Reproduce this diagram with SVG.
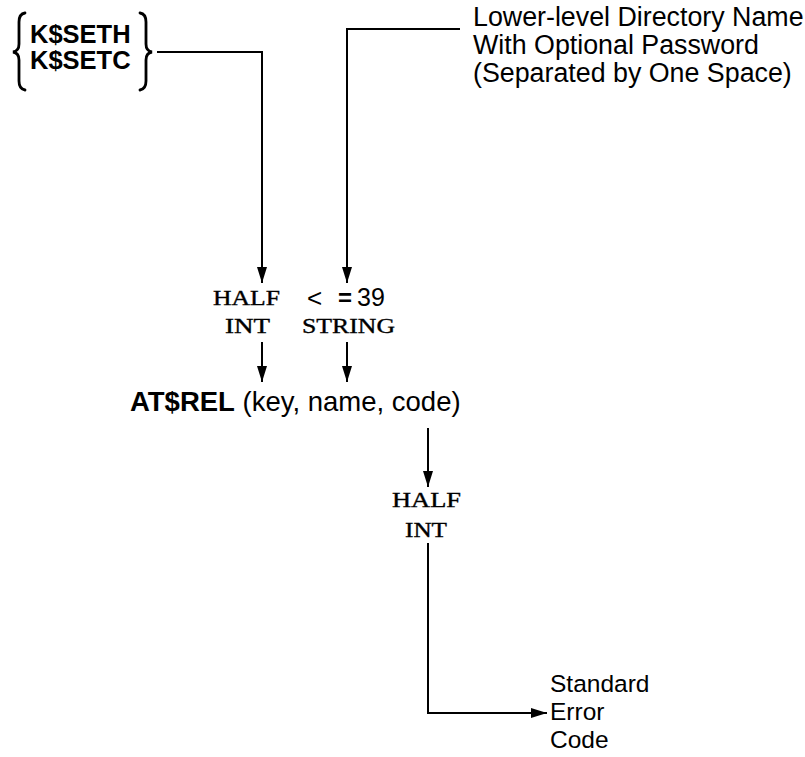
<svg xmlns="http://www.w3.org/2000/svg" width="805" height="757" viewBox="0 0 805 757">
<defs>
<style>
.sans{font-family:"Liberation Sans",Arial,sans-serif;fill:#000}
.bold{font-weight:bold}
.mono{font-family:"Liberation Serif","Times New Roman",serif;fill:#000;stroke:#000;stroke-width:0.35;font-size:20.5px}
.ln{fill:none;stroke:#000;stroke-width:2}
.br{fill:none;stroke:#000;stroke-width:2.8;stroke-linecap:round}
</style>
<marker id="ah" markerUnits="userSpaceOnUse" markerWidth="18" markerHeight="12" refX="16" refY="5" orient="auto">
<path d="M0,0 L16,5 L0,10 z" fill="#000"/>
</marker>
</defs>
<rect width="805" height="757" fill="#fff"/>

<g id="node-keys">
<path class="br" d="M25,13 Q19,14 19,22 L19,44 Q19,51 13,52 Q19,53 19,60 L19,81 Q19,89 25,90"/>
<text class="sans bold" x="30" y="43" font-size="25.5">K$SETH</text>
<text class="sans bold" x="30" y="69" font-size="25.5">K$SETC</text>
<path class="br" d="M140,13 Q146,14 146,22 L146,44 Q146,51 152,52 Q146,53 146,60 L146,81 Q146,89 140,90"/>
</g>

<g id="node-name-desc">
<text class="sans" x="473" y="26" font-size="26.8">Lower-level Directory Name</text>
<text class="sans" x="473" y="54" font-size="26.8">With Optional Password</text>
<text class="sans" x="473" y="82" font-size="26.8">(Separated by One Space)</text>
</g>

<g id="node-key-type">
<text class="mono" x="213" y="305" textLength="67" lengthAdjust="spacingAndGlyphs">HALF</text>
<text class="mono" x="225" y="333" textLength="45" lengthAdjust="spacingAndGlyphs">INT</text>
</g>

<g id="node-name-type">
<text class="sans" x="307" y="307" font-size="26">&lt;</text>
<text class="sans bold" x="338" y="306" font-size="24">=</text>
<text class="sans" x="357" y="306" font-size="25">39</text>
<text class="mono" x="302" y="333" textLength="93" lengthAdjust="spacingAndGlyphs">STRING</text>
</g>

<g id="node-call">
<text class="sans" x="130" y="411" font-size="27.5"><tspan class="bold">AT$REL</tspan> (key, name, code)</text>
</g>

<g id="node-code-type">
<text class="mono" x="392" y="507" textLength="69" lengthAdjust="spacingAndGlyphs">HALF</text>
<text class="mono" x="405" y="537" textLength="42" lengthAdjust="spacingAndGlyphs">INT</text>
</g>

<g id="node-error">
<text class="sans" x="550" y="692" font-size="24.5">Standard</text>
<text class="sans" x="550" y="720" font-size="24.5">Error</text>
<text class="sans" x="550" y="748" font-size="24.5">Code</text>
</g>

<g id="connectors">
<polyline class="ln" points="157,52 262,52 262,283" marker-end="url(#ah)"/>
<polyline class="ln" points="460,29 347,29 347,283" marker-end="url(#ah)"/>
<line class="ln" x1="262" y1="342" x2="262" y2="382" marker-end="url(#ah)"/>
<line class="ln" x1="347" y1="342" x2="347" y2="382" marker-end="url(#ah)"/>
<line class="ln" x1="428" y1="428" x2="428" y2="487" marker-end="url(#ah)"/>
<polyline class="ln" points="428,543 428,713 547,713" marker-end="url(#ah)"/>
</g>
</svg>
